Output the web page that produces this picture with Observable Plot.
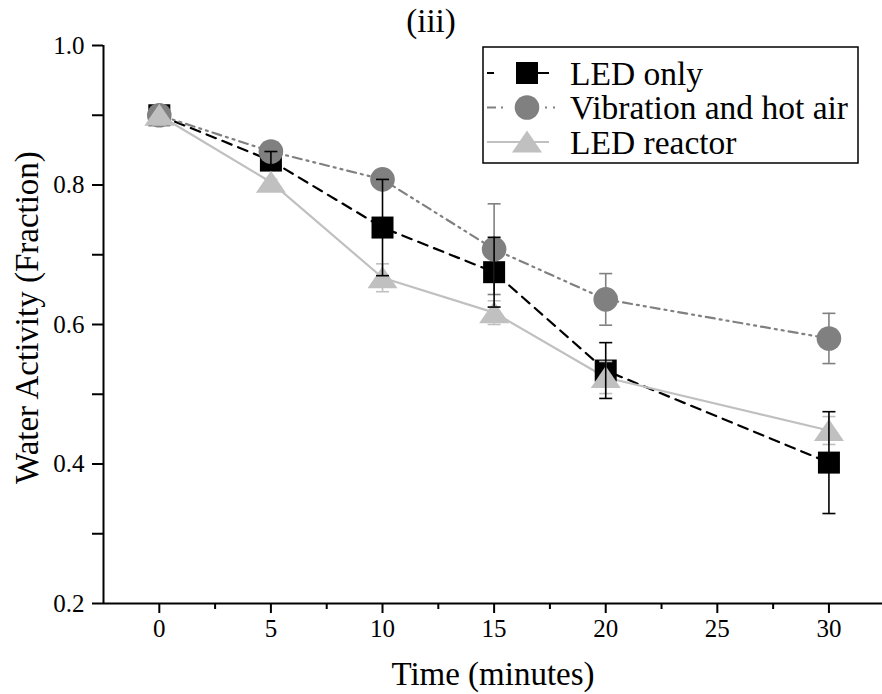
<!DOCTYPE html>
<html><head><meta charset="utf-8">
<script src="https://cdn.jsdelivr.net/npm/d3@7"></script>
<script src="https://cdn.jsdelivr.net/npm/@observablehq/plot@0.6"></script>
<style>
body{margin:0;background:#fff}
#wrap{position:relative;width:882px;height:694px;font-family:"Liberation Serif",Tinos,"Times New Roman",Times,"Nimbus Roman","DejaVu Serif",serif;color:#000}
#title{position:absolute;left:331px;top:2px;width:200px;text-align:center;font-size:33px;line-height:38px}
#legend{position:absolute;left:0;top:0}
</style></head><body><div id="wrap"><div id="title">(iii)</div></div>
<script>
// ---- data ----
const times = [0, 5, 10, 15, 20, 30];
const seriesNames = ["LED only", "Vibration and hot air", "LED reactor"];
const ledOnly = [0.900, 0.835, 0.739, 0.675, 0.534, 0.402];
const ledOnlyErr = [0, 0.013, 0.069, 0.050, 0.040, 0.073];
const vibration = [0.900, 0.848, 0.808, 0.708, 0.636, 0.580];
const vibrationErr = [0, 0.003, 0.003, 0.065, 0.037, 0.036];
const reactor = [0.900, 0.804, 0.667, 0.617, 0.524, 0.448];
const reactorErr = [0, 0.004, 0.020, 0.017, 0.023, 0.020];
const xTicks = [0, 5, 10, 15, 20, 25, 30];
const xMinor = [2.5, 7.5, 12.5, 17.5, 22.5, 27.5];
const yTicks = [0.2, 0.4, 0.6, 0.8, 1.0];
const yMinor = [0.3, 0.5, 0.7, 0.9];

const SERIF = '"Liberation Serif", Tinos, "Times New Roman", Times, "Nimbus Roman", "DejaVu Serif", serif';

// ---- styles ----
const styles = [
  {name: seriesNames[0], values: ledOnly, errs: ledOnlyErr, color: "#000000", dash: "10,7", legendDash: "7,22,40", legendEnd: 549, shape: "square"},
  {name: seriesNames[1], values: vibration, errs: vibrationErr, color: "#808080", dash: "9,5,2,5,2,5", legendDash: "9,5,2,42,2,6,2,20", legendEnd: 556, shape: "circle"},
  {name: seriesNames[2], values: reactor, errs: reactorErr, color: "#c0c0c0", dash: null, legendDash: null, legendEnd: 549, shape: "triangle"}
];

const symbols = {
  square: {draw(c) { c.rect(-11, -11, 22, 22); }},
  circle: {draw(c) { c.moveTo(12.3, 0); c.arc(0, 0, 12.3, 0, 2 * Math.PI); }},
  triangle: {draw(c) { c.moveTo(0, -11.5); c.lineTo(15, 10.5); c.lineTo(-15, 10.5); c.closePath(); }},
  cap: {draw(c) { c.moveTo(-6.5, 0); c.lineTo(6.5, 0); }}
};

const rows = [];
styles.forEach((s, si) => times.forEach((t, i) => rows.push({series: s.name, si, t, v: s.values[i], e: s.errs[i]})));

const marks = [];
styles.forEach((s, si) => {
  marks.push(Plot.line(rows.filter(r => r.si === si), {x: "t", y: "v", stroke: s.color, strokeWidth: 2.2, strokeDasharray: s.dash || undefined}));
});
styles.forEach((s, si) => {
  marks.push(Plot.dot(rows.filter(r => r.si === si), {x: "t", y: "v", symbol: symbols[s.shape], fill: s.color, stroke: "none", r: 10}));
});
[2, 1, 0].forEach(si => {
  const s = styles[si];
  const d = rows.filter(r => r.si === si && r.e > 0);
  marks.push(Plot.ruleX(d, {x: "t", y1: r => r.v - r.e, y2: r => r.v + r.e, stroke: s.color, strokeWidth: 1.6}));
  marks.push(Plot.dot(d, {x: "t", y: r => r.v + r.e, symbol: symbols.cap, stroke: s.color, strokeWidth: 1.6, r: 5}));
  marks.push(Plot.dot(d, {x: "t", y: r => r.v - r.e, symbol: symbols.cap, stroke: s.color, strokeWidth: 1.6, r: 5}));
});
marks.push(
  Plot.axisX({ticks: xTicks, tickSize: 10, tickPadding: 6, fontSize: 25, label: null, strokeWidth: 2, tickFormat: d => String(d)}),
  Plot.axisX({ticks: xMinor, tickSize: 6, text: null, label: null, strokeWidth: 2}),
  Plot.axisY({ticks: yTicks, tickSize: 11, tickPadding: 8, fontSize: 25, label: null, strokeWidth: 2, tickFormat: d => d.toFixed(1)}),
  Plot.axisY({ticks: yMinor, tickSize: 11, text: null, label: null, strokeWidth: 2}),
  Plot.ruleY([0.2], {stroke: "black", strokeWidth: 2}),
  Plot.ruleX([-2.5], {stroke: "black", strokeWidth: 2}),
  Plot.text(["Water Activity (Fraction)"], {frameAnchor: "left", textAnchor: "middle", lineAnchor: "middle", rotate: -90, dx: -76, dy: -7, fontSize: 33}),
  Plot.text(["Time (minutes)"], {frameAnchor: "bottom", lineAnchor: "bottom", dy: 81, dx: 0, fontSize: 33})
);

const chart = Plot.plot({
  width: 882, height: 694,
  marginLeft: 103, marginRight: 0, marginTop: 45, marginBottom: 91,
  x: {domain: [-2.5, 32.4]},
  y: {domain: [0.2, 1.0]},
  style: {fontFamily: SERIF, color: "black", background: "white", overflow: "visible"},
  marks
});
const wrap = document.getElementById("wrap");
wrap.insertBefore(chart, wrap.firstChild);

// legend overlay
const lg = d3.select(wrap).append("svg").attr("id", "legend").attr("width", 882).attr("height", 694).style("pointer-events", "none");
lg.append("rect").attr("x", 483).attr("y", 47).attr("width", 375).attr("height", 116).attr("fill", "white").attr("stroke", "black").attr("stroke-width", 1.5);
styles.forEach((s, i) => {
  const y = 73 + i * 34.5;
  lg.append("line").attr("x1", 487).attr("x2", s.legendEnd).attr("y1", y).attr("y2", y)
    .attr("stroke", s.color).attr("stroke-width", 2.2).attr("stroke-dasharray", s.legendDash);
  const p = d3.path();
  symbols[s.shape].draw(p);
  lg.append("path").attr("d", p.toString()).attr("transform", `translate(527,${y})`).attr("fill", s.color);
  lg.append("text").attr("x", 570).attr("y", y).attr("dy", "0.35em").attr("font-size", 33.5)
    .attr("font-family", SERIF).text(s.name);
});
</script></body></html>
